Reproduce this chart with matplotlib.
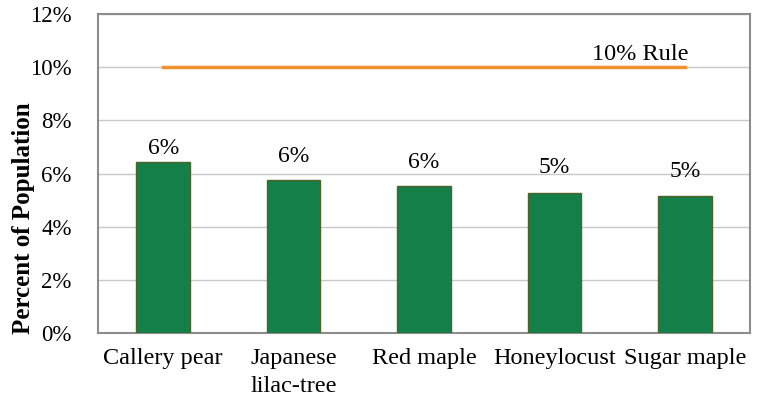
import matplotlib.pyplot as plt
from matplotlib.ticker import FuncFormatter

species = ["Callery pear", "Japanese\nlilac-tree", "Red maple", "Honeylocust", "Sugar maple"]
percent = [6.43, 5.75, 5.53, 5.26, 5.15]
rule = [10, 10, 10, 10, 10]
label_gap = [0.3, 0.68, 0.68, 0.75, 0.72]  # data label offsets as placed in the original

plt.rcParams['font.family'] = ['Liberation Serif', 'DejaVu Serif']

fig = plt.figure(figsize=(7.63, 4.09), dpi=100)
ax = fig.add_axes([98 / 763, 1 - 333 / 409, 652 / 763, 319 / 409])

x = range(len(species))
bars = ax.bar(x, percent, width=0.41, color="#138049", edgecolor="#4f6228", linewidth=1, zorder=3)
ax.plot(x, rule, color="#f0922e", linewidth=2.5, zorder=4)

for i, v in enumerate(percent):
    ax.text(i, v + label_gap[i], "%d%%" % round(v), ha="center", va="baseline", fontsize=17)
ax.text(len(species) - 1.71, rule[-1] + 0.27, "10% Rule", ha="left", va="baseline", fontsize=17.5)

ax.set_xlim(-0.5, len(species) - 0.5)
ax.set_ylim(0, 12)
ax.set_yticks(range(0, 13, 2))
ax.yaxis.set_major_formatter(FuncFormatter(lambda v, p: "%d%%" % v))
ax.set_xticks(list(x))
ax.set_xticklabels(species, fontsize=17.5, linespacing=1.4, va="top")
ax.tick_params(axis="y", labelsize=16.5, length=0, pad=19)
ax.tick_params(axis="x", length=0, pad=11)
ax.grid(axis="y", color="#c8c8c8", linewidth=1, zorder=0)
for s in ax.spines.values():
    s.set_color("#8c8c8c")
    s.set_linewidth(1.5)
ax.set_ylabel("Percent of Population", fontsize=18, fontweight="bold")
ax.yaxis.set_label_coords(-0.096, 0.36)

fig.savefig("out.png", dpi=100)
